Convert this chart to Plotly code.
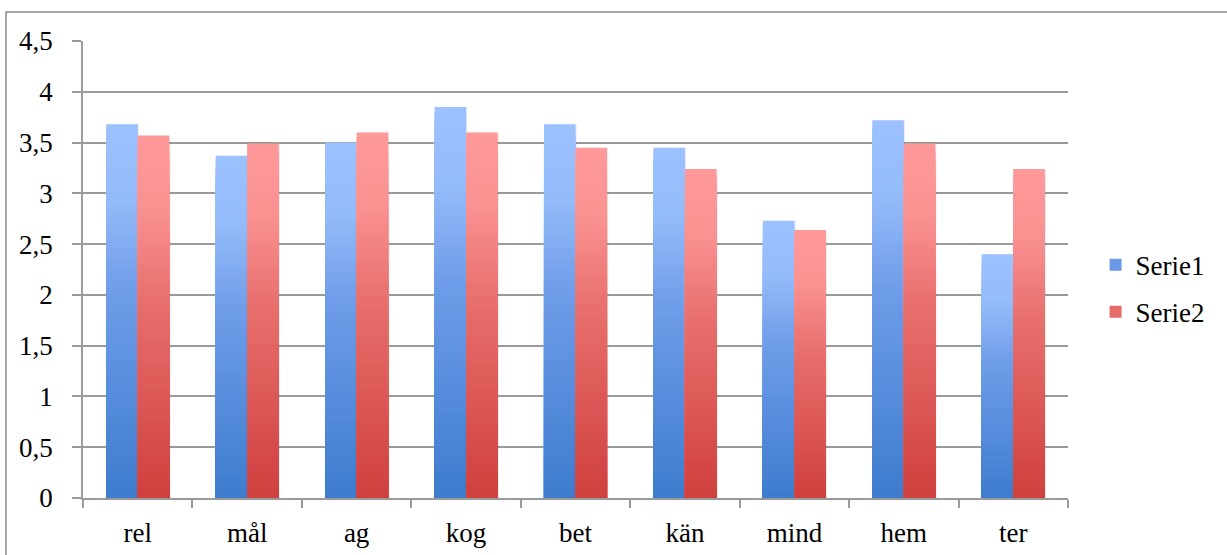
import plotly.graph_objects as go

# Category labels and the two series
categories = ["rel", "mål", "ag", "kog", "bet", "kän", "mind", "hem", "ter"]
serie1 = [3.68, 3.37, 3.50, 3.85, 3.68, 3.45, 2.73, 3.72, 2.40]
serie2 = [3.57, 3.49, 3.60, 3.60, 3.45, 3.24, 2.64, 3.49, 3.24]
y_ticks = [0, 0.5, 1, 1.5, 2, 2.5, 3, 3.5, 4, 4.5]

FONT = "'Liberation Serif', 'Times New Roman', 'DejaVu Serif', serif"
GRID = "#9a9a9a"
N_STEPS = 60          # number of colour bands used to shade each bar
BAR_W = 0.288

# gradient stops: (fraction from the bottom, rgb)
blue_stops = [(0.0, (62, 124, 206)), (0.55, (110, 156, 232)), (0.8, (148, 187, 250)), (1.0, (156, 193, 255))]
red_stops = [(0.0, (207, 64, 62)), (0.55, (232, 112, 110)), (0.8, (250, 146, 146)), (1.0, (255, 153, 153))]


def colour_at(stops, t):
    for (t0, c0), (t1, c1) in zip(stops[:-1], stops[1:]):
        if t <= t1:
            f = (t - t0) / (t1 - t0) if t1 > t0 else 0
            r, g, b = (round(a + (bb - a) * f) for a, bb in zip(c0, c1))
            return f"rgb({r},{g},{b})"
    r, g, b = stops[-1][1]
    return f"rgb({r},{g},{b})"


fig = go.Figure()


def add_series(name, values, stops, offset, rank):
    # soft drop shadow to the right of each bar
    fig.add_trace(go.Bar(
        x=categories, y=values, width=BAR_W, offset=offset + 0.012,
        marker=dict(color="rgba(0,0,0,0.07)", line=dict(width=0)),
        showlegend=False, hoverinfo="skip",
    ))
    # draw nested bars from tallest (top colour) to shortest (bottom colour)
    for k in range(N_STEPS - 1, -1, -1):
        frac = (k + 1) / N_STEPS
        fig.add_trace(go.Bar(
            x=categories,
            y=[v * frac for v in values],
            width=BAR_W,
            offset=offset,
            marker=dict(color=colour_at(stops, (k + 0.5) / N_STEPS), line=dict(width=0)),
            name=name,
            legendgroup=name,
            legendrank=rank,
            showlegend=(k == N_STEPS // 2),
            hoverinfo="skip",
        ))


add_series("Serie1", serie1, blue_stops, -BAR_W, 1)
add_series("Serie2", serie2, red_stops, 0.0, 2)

fig.update_layout(
    width=1227,
    height=555,
    margin=dict(l=83, r=159, t=41, b=57, autoexpand=False),
    paper_bgcolor="white",
    plot_bgcolor="white",
    barmode="overlay",
    separators=", ",
    font=dict(family=FONT, size=27, color="black"),
    legend=dict(
        x=1.028, y=0.458, xanchor="left", yanchor="middle",
        font=dict(family=FONT, size=27),
        tracegroupgap=9,
        itemwidth=30,
        bgcolor="rgba(0,0,0,0)",
    ),
    showlegend=True,
)

fig.update_yaxes(
    range=[0, 4.5],
    tickvals=y_ticks,
    tickformat=".1~f",
    showgrid=True,
    gridcolor=GRID,
    gridwidth=1.5,
    showline=True,
    linecolor=GRID,
    linewidth=1.5,
    ticks="outside",
    ticklen=9,
    tickcolor=GRID,
    tickwidth=1.5,
    ticklabelstandoff=14,
    zeroline=False,
    automargin=False,
    tickfont=dict(family=FONT, size=27),
)

fig.update_xaxes(
    showline=True,
    linecolor=GRID,
    linewidth=1.5,
    ticks="outside",
    tickson="boundaries",
    ticklen=8,
    tickcolor=GRID,
    tickwidth=1.5,
    showgrid=False,
    ticklabelstandoff=10,
    automargin=False,
    tickfont=dict(family=FONT, size=27),
)

# outer chart frame (top and left edges visible)
fig.add_shape(type="rect", xref="paper", yref="paper",
              x0=(6 - 83) / 985, x1=(1240 - 83) / 985,
              y0=(498 - 570) / 457, y1=(498 - 12) / 457,
              line=dict(color="#8a8a8a", width=1.5), fillcolor="rgba(0,0,0,0)", layer="below")

fig.write_html("out.html")
